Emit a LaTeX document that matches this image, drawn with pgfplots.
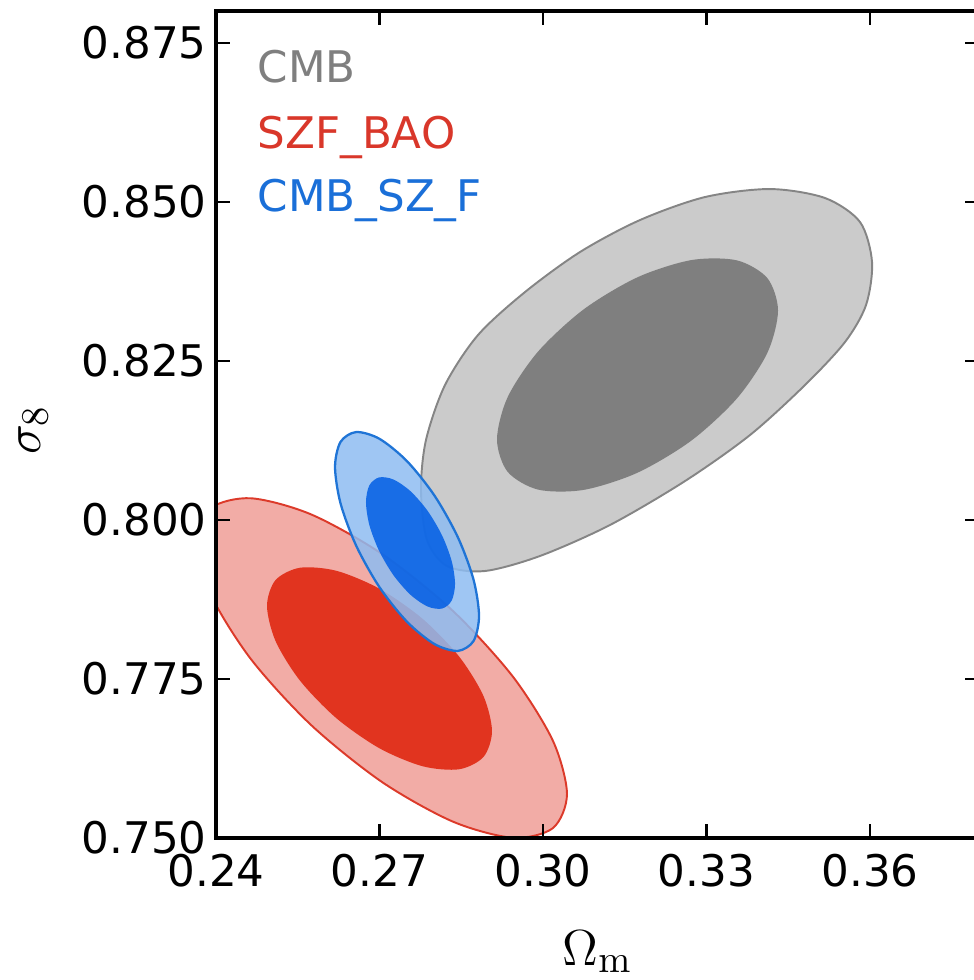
\documentclass[border=0pt]{standalone}
\usepackage[no-math]{fontspec}
\setmainfont{DejaVu Sans}
\usepackage{pgfplots}
\pgfplotsset{compat=1.18}

% contour colours
\definecolor{cmbLight}{HTML}{CBCBCB}
\definecolor{cmbEdge}{HTML}{858585}
\definecolor{cmbDark}{HTML}{7F7F7F}
\definecolor{szfLight}{HTML}{F2ACA6}
\definecolor{szfEdge}{HTML}{DC3A2A}
\definecolor{szfDark}{HTML}{E1341F}
\definecolor{jointLight}{HTML}{8EBCF1}
\definecolor{jointEdge}{HTML}{1F74D6}
\definecolor{jointDark}{HTML}{005DE4}
\definecolor{txtGray}{HTML}{7F7F7F}
\definecolor{txtRed}{HTML}{D9372A}
\definecolor{txtBlue}{HTML}{1A6FD8}

\begin{document}
\begin{tikzpicture}
\begin{axis}[
  name=ax,
  scale only axis,
  width=76.3mm, height=82.7mm,
  xmin=0.24, xmax=0.38,
  ymin=0.75, ymax=0.88,
  axis on top,
  axis line style={line width=0.9pt},
  tick style={line width=0.6pt, black},
  major tick length=1.4mm,
  tick align=inside,
  xtick={0.24,0.27,0.30,0.33,0.36},
  xticklabels={0.24,0.27,0.30,0.33,0.36},
  ytick={0.750,0.775,0.800,0.825,0.850,0.875},
  yticklabels={0.750,0.775,0.800,0.825,0.850,0.875},
  tick label style={font=\fontsize{12.4}{14}\selectfont},
  xticklabel style={yshift=-0.4mm},
  yticklabel style={xshift=0.3mm},
  xlabel={$\Omega_\mathrm{m}$},
  ylabel={$\sigma_8$},
  label style={font=\fontsize{15}{18}\selectfont},
  xlabel style={at={(axis description cs:0.5,-0.1536)}, anchor=base},
  ylabel style={at={(axis description cs:-0.2398,0.4933)}, anchor=center},
]

% CMB: 95% and 68% regions
\addplot[smooth cycle, draw=cmbEdge, line width=0.55pt, fill=cmbLight] coordinates {
  (0.27761,0.80470) (0.27853,0.81256) (0.28202,0.82120) (0.28807,0.82906)
  (0.29670,0.83582) (0.30679,0.84211) (0.31780,0.84714) (0.32972,0.85075)
  (0.34165,0.85201) (0.35174,0.85060) (0.35817,0.84682) (0.36037,0.84054)
  (0.35927,0.83378) (0.35541,0.82796) (0.34807,0.82120) (0.33798,0.81334)
  (0.32606,0.80611) (0.31229,0.79920) (0.29945,0.79433) (0.28936,0.79197)
  (0.28239,0.79275) (0.27872,0.79684)
};
\addplot[smooth cycle, draw=none, fill=cmbDark] coordinates {
  (0.34312,0.83290) (0.34116,0.83801) (0.33557,0.84080) (0.32721,0.84084)
  (0.31734,0.83814) (0.30747,0.83310) (0.29911,0.82648) (0.29352,0.81931)
  (0.29156,0.81266) (0.29352,0.80755) (0.29911,0.80476) (0.30747,0.80472)
  (0.31734,0.80742) (0.32721,0.81246) (0.33557,0.81908) (0.34116,0.82625)
};

% SZF_BAO: 95% and 68% regions
\addplot[smooth cycle, draw=szfEdge, line width=0.55pt, fill=szfLight] coordinates {
  (0.30440,0.75691) (0.30182,0.76528) (0.29446,0.77538) (0.28345,0.78570)
  (0.27046,0.79464) (0.25747,0.80086) (0.24646,0.80340) (0.23910,0.80188)
  (0.23652,0.79653) (0.23910,0.78816) (0.24646,0.77806) (0.25747,0.76774)
  (0.27046,0.75880) (0.28345,0.75258) (0.29446,0.75004) (0.30182,0.75156)
};
\addplot[smooth cycle, draw=none, fill=szfDark] coordinates {
  (0.29064,0.76678) (0.28907,0.77233) (0.28459,0.77854) (0.27790,0.78446)
  (0.27000,0.78918) (0.26210,0.79200) (0.25541,0.79248) (0.25093,0.79055)
  (0.24936,0.78650) (0.25093,0.78095) (0.25541,0.77474) (0.26210,0.76882)
  (0.27000,0.76410) (0.27790,0.76128) (0.28459,0.76080) (0.28907,0.76273)
};

% CMB_SZ_F: 95% and 68% regions
\addplot[smooth cycle, draw=jointEdge, line width=0.65pt, fill=jointLight, fill opacity=0.85] coordinates {
  (0.28826,0.78490) (0.28725,0.79062) (0.28439,0.79725) (0.28011,0.80379)
  (0.27505,0.80923) (0.26999,0.81275) (0.26571,0.81381) (0.26285,0.81226)
  (0.26184,0.80832) (0.26285,0.80260) (0.26571,0.79597) (0.26999,0.78943)
  (0.27505,0.78399) (0.28011,0.78047) (0.28439,0.77941) (0.28725,0.78096)
};
\addplot[smooth cycle, draw=none, fill=jointDark, fill opacity=0.85] coordinates {
  (0.28386,0.78994) (0.28324,0.79355) (0.28147,0.79758) (0.27882,0.80143)
  (0.27569,0.80451) (0.27256,0.80635) (0.26991,0.80668) (0.26814,0.80543)
  (0.26752,0.80280) (0.26814,0.79919) (0.26991,0.79516) (0.27256,0.79131)
  (0.27569,0.78823) (0.27882,0.78639) (0.28147,0.78606) (0.28324,0.78731)
};

% legend entries
\node[anchor=base west, inner sep=0pt, text=txtGray, font=\fontsize{12.4}{14}\selectfont]
  at (rel axis cs:0.0537,0.913) {CMB};
\node[anchor=base west, inner sep=0pt, text=txtRed, font=\fontsize{12.4}{14}\selectfont]
  at (rel axis cs:0.0537,0.834) {SZF\_BAO};
\node[anchor=base west, inner sep=0pt, text=txtBlue, font=\fontsize{12.4}{14}\selectfont]
  at (rel axis cs:0.0537,0.757) {CMB\_SZ\_F};
\end{axis}
\pgfresetboundingbox
\path[use as bounding box] ([xshift=-21.6mm,yshift=-14.2mm]ax.south west)
  rectangle ([xshift=-0.6mm,yshift=1.1mm]ax.north east);
\end{tikzpicture}
\end{document}
